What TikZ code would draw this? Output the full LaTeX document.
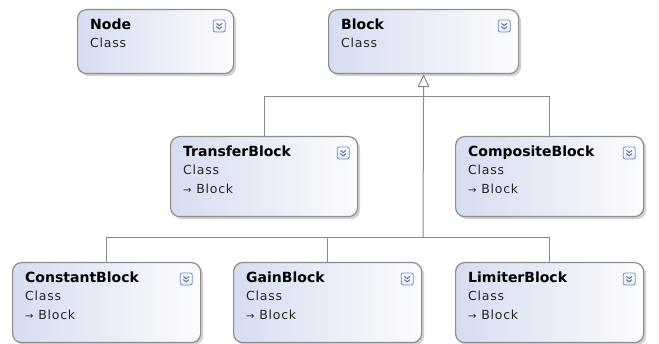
\documentclass[tikz,border=0pt]{standalone}
\usepackage{fontspec}
\setmainfont{DejaVu Sans}
\newfontfamily\bodyfont[LetterSpace=6]{DejaVu Sans}
\usetikzlibrary{shadows,arrows.meta}
\definecolor{boxl}{HTML}{D6DDF1}
\definecolor{boxr}{HTML}{FBFCFE}
\definecolor{edgec}{HTML}{8C8C8C}
\definecolor{linec}{HTML}{8A8A86}
\definecolor{iconb}{HTML}{6A8CC8}
\tikzset{
  classbox/.style={draw=edgec, line width=1.2pt, rounded corners=9pt,
    left color=boxl, right color=boxr,
    drop shadow={shadow xshift=2.5pt, shadow yshift=-2.5pt, fill=black!40, opacity=0.45},
    inner sep=0pt, anchor=north west},
  titletext/.style={font=\fontsize{14}{14}\selectfont\bfseries, inner sep=0pt, anchor=base west},
  bodytext/.style={font=\bodyfont\fontsize{12.5}{12.5}\selectfont, text=black!85, inner sep=0pt, anchor=base west},
  iconbox/.style={draw=iconb, line width=0.8pt, rounded corners=2pt, top color=white, bottom color=boxl!60,
    minimum size=12pt, inner sep=0pt},
  chev/.style={draw=iconb!80!black, line width=1pt},
  conn/.style={draw=linec, line width=1pt},
  inh/.style={conn, -{Triangle[open, length=13pt, width=12pt, line width=1pt, fill=white]}}
}
\newcommand\umlclass[7]{%
  \node[classbox, minimum width=#4pt, minimum height=#5pt] (#1) at (#2,#3) {};
  \node[titletext] (#1-t) at ([xshift=13pt,yshift=-21pt]#1.north west) {#6};
  \node[bodytext] (#1-c) at ([xshift=13pt,yshift=-39pt]#1.north west) {Class};
  \ifnum#7=1
    \node[bodytext] (#1-p) at ([xshift=13pt,yshift=-58pt]#1.north west) {{\fontsize{10}{10}\selectfont →} Block};
  \fi
  \node[iconbox] (#1-i) at ([xshift=-15pt,yshift=-17pt]#1.north east) {};
  \draw[chev] ([xshift=-2.8pt,yshift=2.6pt]#1-i.center) -- ([yshift=0.4pt]#1-i.center) -- ([xshift=2.8pt,yshift=2.6pt]#1-i.center);
  \draw[chev] ([xshift=-2.8pt,yshift=-0.6pt]#1-i.center) -- ([yshift=-2.8pt]#1-i.center) -- ([xshift=2.8pt,yshift=-0.6pt]#1-i.center);
}
\begin{document}
\begin{tikzpicture}[x=1pt,y=-1pt]
  \useasboundingbox[fill=white] (0,0) rectangle (659,344);
  \umlclass{node}{77}{9}{156}{64}{Node}{0}
  \umlclass{block}{328}{9}{190}{64}{Block}{0}
  \umlclass{transfer}{170}{136}{187}{80}{TransferBlock}{1}
  \umlclass{composite}{455}{136}{188}{80}{CompositeBlock}{1}
  \umlclass{constant}{12}{262}{188}{80}{ConstantBlock}{1}
  \umlclass{gain}{233}{262}{188}{80}{GainBlock}{1}
  \umlclass{limiter}{455}{262}{188}{80}{LimiterBlock}{1}
  \coordinate (bus1) at (423,97);
  \coordinate (bus2) at (423,238);
  \draw[conn] (transfer.north) |- (bus1);
  \draw[conn] (composite.north) |- (bus1);
  \draw[conn] (constant.north) |- (bus2);
  \draw[conn] (gain.north) |- (bus2);
  \draw[conn] (limiter.north) |- (bus2);
  \draw[inh] (bus2) -- (block.south);
\end{tikzpicture}
\end{document}
